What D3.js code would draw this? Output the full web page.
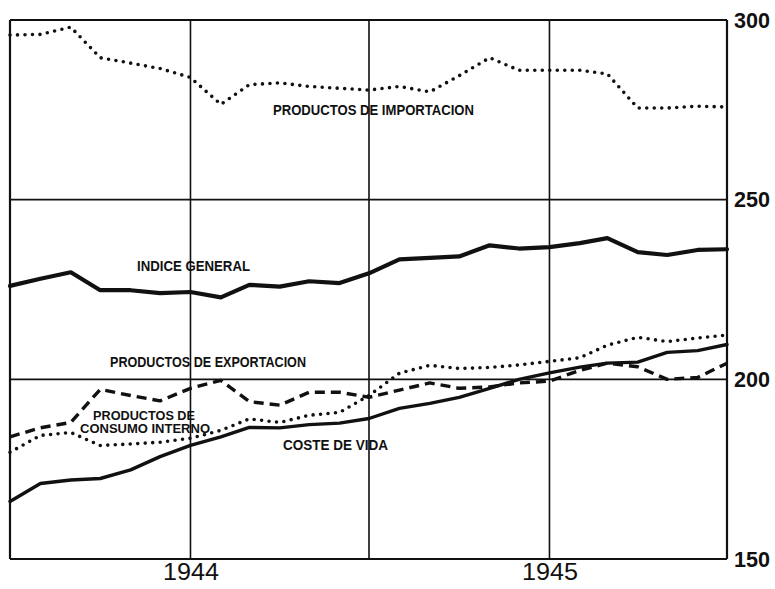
<!DOCTYPE html>
<html>
<head>
<meta charset="utf-8">
<script src="https://cdn.jsdelivr.net/npm/d3@7"></script>
<style>
  body { margin: 0; background: #fff; }
  svg { display: block; }
  .grid line, .grid path { stroke: #111; }
  .lbl { font-family: "Liberation Sans", Arial, sans-serif; font-weight: bold; fill: #111; }
</style>
</head>
<body>
<svg id="chart" width="775" height="589"></svg>
<script>
// monthly observations, July 1943 - July 1945
var months = ["1943-07","1943-08","1943-09","1943-10","1943-11","1943-12",
              "1944-01","1944-02","1944-03","1944-04","1944-05","1944-06",
              "1944-07","1944-08","1944-09","1944-10","1944-11","1944-12",
              "1945-01","1945-02","1945-03","1945-04","1945-05","1945-06","1945-07"];

var importacion = [295.8,296,298,289.5,288,286.5,284,276.5,282,282.5,281.5,281,280.5,
                   281.5,280,284.5,289.5,286,286,286,285,275.5,275.5,276,275.8];
var indiceGeneral = [226,228,229.8,224.8,224.8,224,224.3,222.8,226.3,225.8,227.3,226.8,229.5,
                     233.4,233.8,234.2,237.3,236.4,236.8,237.9,239.3,235.4,234.6,236,236.2];
var exportacion = [179.7,184.4,185.2,181.6,182,182.5,183.6,185.8,189,188,190,190.8,195.5,
                   201.7,203.9,203,203.3,204,205,206,209.5,211.7,210.5,211.5,212.3];
var consumoInterno = [184,186.5,188,197.2,195.5,194,197.5,199.7,193.8,192.8,196.4,196.4,195,
                      197,199,197.5,197.9,199,199.5,202.5,204.5,203.5,200,200.5,204.5];
var costeVida = [166,171,172,172.4,174.8,178.5,181.6,184,186.6,186.5,187.4,187.8,189.1,
                 191.9,193.3,195,197.5,200,201.8,203.4,204.5,204.8,207.5,208,209.7];

var yTicks = [150, 200, 250, 300];
var yearTicks = ["1944-01", "1945-01"];
var yearLabels = ["1944", "1945"];
var vGrid = ["1943-07", "1944-01", "1944-07", "1945-01", "1945-07"];

var parse = d3.timeParse("%Y-%m");
var dates = months.map(parse);

var svg = d3.select("#chart");

var x = d3.scaleTime()
          .domain(d3.extent(dates))
          .range([10, 727]);

var y = d3.scaleLinear()
          .domain([150, 300])
          .range([559, 20]);

//================= grid
svg.append("g")
   .attr("class", "grid")
   .selectAll("line.h")
   .data(yTicks)
   .enter().append("line")
   .attr("x1", x.range()[0]).attr("x2", x.range()[1])
   .attr("y1", function(d) { return y(d); })
   .attr("y2", function(d) { return y(d); })
   .attr("stroke-width", function(d) { return (d == 150 || d == 300) ? 2.2 : 1.6; });

svg.append("g")
   .attr("class", "grid")
   .selectAll("line.v")
   .data(vGrid.map(parse))
   .enter().append("line")
   .attr("y1", y.range()[0]).attr("y2", y.range()[1])
   .attr("x1", function(d) { return x(d); })
   .attr("x2", function(d) { return x(d); })
   .attr("stroke-width", function(d, i) { return (i == 0 || i == vGrid.length - 1) ? 2.2 : 1.6; });

//================= axes (labels only)
var yAxis = svg.append("g")
   .attr("transform", "translate(" + x.range()[1] + ",0)")
   .call(d3.axisRight(y).tickValues(yTicks).tickSize(0).tickPadding(7));
yAxis.select(".domain").remove();
yAxis.selectAll("text")
     .attr("class", "lbl")
     .attr("textLength", 36)
     .attr("lengthAdjust", "spacingAndGlyphs")
     .style("font-size", "22px")
     .attr("fill", "#111");

var xAxis = svg.append("g")
   .attr("transform", "translate(0," + y.range()[0] + ")")
   .call(d3.axisBottom(x).tickValues(yearTicks.map(parse))
           .tickFormat(function(d, i) { return yearLabels[i]; })
           .tickSize(0).tickPadding(5));
xAxis.select(".domain").remove();
xAxis.selectAll("text")
     .attr("class", "lbl")
     .attr("textLength", 56)
     .attr("lengthAdjust", "spacingAndGlyphs")
     .style("font-size", "23px")
     .style("font-weight", "normal")
     .attr("fill", "#111");

//================= lines
var line = d3.line()
             .x(function(d, i) { return x(dates[i]); })
             .y(function(d) { return y(d); });

function drawSeries(values, width, dash, cap) {
  svg.append("path")
     .attr("d", line(values))
     .attr("fill", "none")
     .attr("stroke", "#111")
     .attr("stroke-width", width)
     .attr("stroke-dasharray", dash)
     .attr("stroke-linecap", cap)
     .attr("stroke-linejoin", "round");
}

drawSeries(importacion, 3.6, "0,7.5", "round");
drawSeries(exportacion, 3.6, "0,7.5", "round");
drawSeries(consumoInterno, 3.4, "10,6", "butt");
drawSeries(costeVida, 3.4, null, "round");
drawSeries(indiceGeneral, 4.2, null, "round");

//================= series labels
var labels = [
  {t: "PRODUCTOS DE IMPORTACION", x: 273, y: 115, w: 201, s: 15},
  {t: "INDICE GENERAL", x: 137, y: 271, w: 113, s: 15},
  {t: "PRODUCTOS DE EXPORTACION", x: 110, y: 367, w: 196, s: 14},
  {t: "PRODUCTOS DE", x: 93, y: 420, w: 102, s: 12.5},
  {t: "CONSUMO INTERNO", x: 80, y: 433, w: 130, s: 12.5},
  {t: "COSTE DE VIDA", x: 283, y: 450, w: 105, s: 15}
];

svg.selectAll("text.series")
   .data(labels)
   .enter().append("text")
   .attr("class", "lbl series")
   .attr("x", function(d) { return d.x; })
   .attr("y", function(d) { return d.y; })
   .attr("textLength", function(d) { return d.w; })
   .attr("lengthAdjust", "spacingAndGlyphs")
   .style("font-size", function(d) { return d.s + "px"; })
   .text(function(d) { return d.t; });
</script>
</body>
</html>
